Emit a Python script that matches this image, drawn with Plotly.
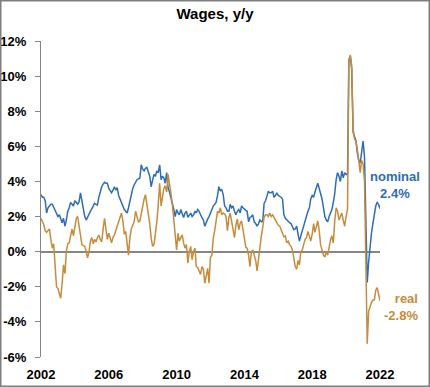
import pandas as pd
import plotly.graph_objects as go

# ---- data (monthly, Jan 2002 .. Jan 2022), % y/y ----
dates = pd.date_range("2002-01-01", periods=241, freq="MS")

nominal = [
    3.25, 3.1, 3.1, 2.9, 2.2, 2.5, 2.6, 2.7, 2.7, 2.5, 2.4, 2.1,        # 2002
    2.0, 2.1, 1.9, 1.65, 1.9, 1.45, 1.8, 2.3, 2.5, 2.8, 2.7, 2.6,       # 2003
    2.9, 2.8, 2.7, 2.85, 3.35, 2.9, 2.3, 2.0, 1.8, 2.0, 2.2, 2.3,       # 2004
    2.45, 2.6, 2.75, 2.7, 2.65, 3.1, 3.5, 3.7, 3.85, 3.95, 3.9, 3.9,    # 2005
    3.6, 3.45, 3.35, 3.5, 3.7, 3.5, 3.65, 3.2, 3.0, 2.75, 2.6, 2.4,     # 2006
    2.3, 2.2, 2.5, 2.85, 3.35, 3.6, 3.8, 4.0, 4.1, 4.15, 4.2, 4.95,     # 2007
    4.7, 4.6, 4.75, 4.8, 4.5, 4.3, 3.7, 4.1, 4.4, 4.3, 4.6, 4.5,        # 2008
    4.95, 4.1, 4.3, 4.2, 3.9, 4.5, 3.65, 3.4, 3.1, 2.8, 2.4, 2.0,       # 2009
    2.4, 2.2, 2.1, 2.4, 2.2, 1.95, 2.2, 2.3, 1.95, 2.1, 2.2, 2.0,       # 2010
    2.1, 2.3, 2.2, 2.4, 2.3, 2.1, 1.95, 1.8, 1.45, 1.7, 1.85, 2.0,      # 2011
    2.2, 2.5, 2.6, 2.7, 2.8, 3.2, 3.7, 3.45, 3.55, 3.25, 2.6, 2.5,      # 2012
    2.3, 2.3, 2.7, 2.5, 2.6, 2.3, 2.1, 2.3, 2.4, 2.2, 2.6, 2.5,         # 2013
    2.4, 2.35, 2.3, 1.7, 1.95, 2.0, 2.1, 1.7, 1.6, 1.45, 1.6, 1.8,      # 2014
    1.7, 1.75, 2.75, 2.9, 3.15, 3.45, 3.35, 3.35, 3.45, 3.1, 3.2, 3.35, # 2015
    3.2, 3.15, 3.1, 3.0, 2.1, 1.9, 1.8, 1.7, 1.65, 1.6, 1.4, 1.25,      # 2016
    1.3, 1.45, 1.0, 0.6, 0.9, 1.2, 1.5, 1.8, 2.0, 2.3, 2.5, 3.0,        # 2017
    3.2, 3.1, 3.4, 3.6, 3.9, 3.6, 3.3, 3.0, 2.5, 2.0, 1.8, 1.7,         # 2018
    2.0, 2.2, 2.4, 2.8, 3.3, 4.1, 4.5, 4.3, 4.0, 4.6, 4.2, 4.5,         # 2019
    4.4, 4.4, 10.9, 11.15, 10.4, 6.8, 6.6, 6.3, 5.6, 5.2, 5.05, 5.6,    # 2020
    6.3, 5.4, 2.7, -1.75, -0.6, 0.4, 1.05, 1.6, 2.1, 2.6, 2.8, 2.7,     # 2021
    2.45,                                                               # 2022
]

real = [
    1.9, 1.7, 1.55, 1.2, 1.1, 1.2, 1.3, 0.7, 0.2, 0.45, -0.85, -2.0,          # 2002
    -2.1, -2.5, -2.65, -1.8, -0.75, -1.25, 0.0, 0.45, 0.5, 0.9, 1.3, 0.9,     # 2003
    1.3, 1.9, 2.0, 1.5, 0.9, 0.4, 0.35, 0.3, 0.0, -0.35, 0.0, 0.6,            # 2004
    0.8, 0.45, 0.7, 0.55, 0.8, 0.95, 0.7, 0.55, 1.3, 1.9, 1.3, 0.7,           # 2005
    1.05, 0.7, 0.5, 0.8, 0.95, 1.2, 1.45, 1.75, 2.0, 2.2, 1.75, 1.0,          # 2006
    1.15, 0.3, -0.2, 0.8, 1.3, 1.5, 1.7, 2.3, 1.9, 1.7, 1.75, 2.2,            # 2007
    2.6, 3.0, 3.25, 2.7, 2.3, 1.6, 0.8, 0.3, 0.4, 1.0, 1.7, 2.65,             # 2008
    3.9, 2.6, 3.0, 3.6, 3.75, 3.4, 4.4, 3.7, 3.3, 2.7, 1.8, 1.0,              # 2009
    0.1, 1.05, 0.6, 0.8, 0.95, 0.5, 0.2, 0.4, -0.65, 0.0, 0.3, -0.45,         # 2010
    0.0, 0.2, -0.85, -0.9, -1.1, -1.3, -0.85, -1.0, -1.8, -1.25, -0.95, -1.8, # 2011
    -0.3, -0.2, 0.75, 1.2, 1.8, 2.3, 2.2, 2.5, 2.1, 2.2, 2.15, 2.0,           # 2012
    1.2, 1.95, 2.2, 1.75, 1.3, 0.8, 1.5, 1.85, 1.25, 1.6, 1.75, 1.3,          # 2013
    0.6, 0.25, 0.2, -0.2, -0.85, 0.0, 0.1, -0.3, -0.5, -1.1, -0.35, 0.5,      # 2014
    0.9, 1.4, 1.95, 2.1, 2.1, 2.0, 2.2, 2.0, 2.1, 1.95, 1.8, 1.6,             # 2015
    1.5, 1.45, 1.2, 1.05, 0.85, 0.9, 0.5, 0.6, 0.4, 0.3, 0.1, -0.45,          # 2016
    -0.85, -1.0, -0.5, -0.75, 0.0, 0.1, 0.4, 0.7, 0.8, 1.15, 0.9, 0.6,        # 2017
    1.0, 1.6, 1.1, 1.5, 1.75, 1.2, 0.4, 0.1, -0.2, -0.3, 0.0, -0.2,           # 2018
    0.4, 0.7, 0.9, 0.5, 1.75, 2.5, 2.3, 1.8, 2.0, 2.2, 1.8, 1.45,             # 2019
    2.0, 2.4, 10.9, 11.2, 10.6, 7.0, 6.4, 6.3, 5.8, 5.2, 4.5, 5.2,            # 2020
    5.0, 4.0, 0.3, -5.25, -3.4, -3.1, -2.9, -2.75, -2.75, -2.2, -2.05, -2.4,  # 2021
    -2.8,                                                                     # 2022
]

tick_years = ["2002", "2006", "2010", "2014", "2018", "2022"]
y_ticks = [-6, -4, -2, 0, 2, 4, 6, 8, 10, 12]

title_text = "Wages, y/y"
nominal_label = "nominal<br>2.4%"
real_label = "real<br>-2.8%"

BLUE = "#2F6DB5"
GOLD = "#C68C3C"
GREY = "#868686"
FONT = "Liberation Sans"

W, H = 430, 387
ML, MR, MT, MB = 41, 50, 41, 30
PW, PH = W - ML - MR, H - MT - MB

fig = go.Figure()
fig.add_trace(go.Scatter(x=dates, y=nominal, mode="lines",
                         line=dict(color=BLUE, width=1.5), name="nominal"))
fig.add_trace(go.Scatter(x=dates, y=real, mode="lines",
                         line=dict(color=GOLD, width=1.5), name="real"))


def px_x(px):
    return (px - ML) / PW


def px_y(py):
    return (H - MB - py) / PH


fig.add_annotation(text=nominal_label, xref="paper", yref="paper",
                   x=px_x(395), y=px_y(184.5), xanchor="center", yanchor="middle",
                   align="center", showarrow=False,
                   font=dict(family=FONT, size=13, color=BLUE, weight="bold"))
fig.add_annotation(text=real_label, xref="paper", yref="paper",
                   x=px_x(420), y=px_y(306.5), xanchor="right", yanchor="middle",
                   align="right", showarrow=False,
                   font=dict(family=FONT, size=13, color=GOLD, weight="bold"))

# outer border
fig.add_shape(type="rect", xref="paper", yref="paper",
              x0=px_x(0.75), x1=px_x(W - 0.75), y0=px_y(H - 0.75), y1=px_y(0.75),
              line=dict(color="#7F7F7F", width=1.5), layer="above")

fig.update_layout(
    width=W, height=H,
    margin=dict(l=ML, r=MR, t=MT, b=MB, pad=0, autoexpand=False),
    paper_bgcolor="white", plot_bgcolor="white",
    showlegend=False,
    hovermode=False,
    title=dict(text=title_text, x=0.5, xanchor="center", xref="container",
               y=1 - 14 / H, yanchor="middle", yref="container",
               font=dict(family=FONT, size=15, color="black", weight="bold")),
    xaxis=dict(
        automargin=False,
        range=["2002-01-01", "2022-01-01"],
        tickvals=[f"{y}-01-01" for y in tick_years],
        ticktext=tick_years,
        showgrid=False, zeroline=False, showline=False, ticks="",
        tickfont=dict(family=FONT, size=13, color="black", weight="bold"),
        ticklabelstandoff=8,
    ),
    yaxis=dict(
        automargin=False,
        range=[-6, 12],
        tickvals=y_ticks,
        ticktext=[f"{v}%" for v in y_ticks],
        showgrid=False,
        zeroline=True, zerolinecolor=GREY, zerolinewidth=1.5,
        showline=True, linecolor=GREY, linewidth=1,
        ticks="outside", ticklen=5, tickcolor=GREY, tickwidth=1,
        tickfont=dict(family=FONT, size=13, color="black", weight="bold"),
        ticklabelstandoff=6,
    ),
)

fig.write_html("out.html",
               config={"displayModeBar": False},
               post_script="document.body.style.margin='0';document.body.style.overflow='hidden';")
